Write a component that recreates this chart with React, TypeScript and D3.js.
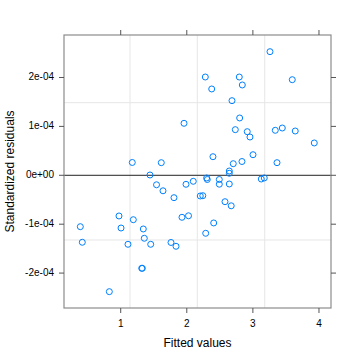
import React, { useMemo } from 'react'
import * as d3 from 'd3'

// fitted values (x) and standardized residuals (y, in units of 1e-4)
const fitted = [
  3.259, 2.28, 2.794, 3.596, 2.377, 2.84, 2.684, 1.958, 2.8, 2.734,
  2.915, 2.956, 3.339, 3.445, 3.641, 3.929, 2.396, 2.703, 2.835, 3.002,
  3.365, 1.175, 1.614, 2.643, 2.643, 2.098, 2.301, 2.31, 2.492, 2.492,
  2.643, 3.127, 3.172, 1.443, 1.542, 1.64, 1.806, 1.988, 2.204, 2.242,
  2.578, 2.672, 1.927, 2.026, 2.407, 2.286, 1.761, 1.837, 0.389, 0.419,
  0.974, 1.005, 1.191, 1.11, 1.342, 1.357, 1.454, 1.318, 1.327, 0.828,
]
const residuals = [
  2.528, 2.01, 2.01, 1.955, 1.765, 1.847, 1.526, 1.063, 1.172, 0.933,
  0.892, 0.783, 0.92, 0.967, 0.906, 0.661, 0.38, 0.237, 0.282, 0.421,
  0.258, 0.262, 0.258, 0.088, 0.041, -0.123, -0.055, -0.086, -0.086, -0.182,
  -0.178, -0.076, -0.055, 0.006, -0.194, -0.317, -0.458, -0.184, -0.423, -0.417,
  -0.54, -0.624, -0.859, -0.828, -0.975, -1.186, -1.374, -1.452, -1.051, -1.37,
  -0.832, -1.078, -0.908, -1.411, -1.098, -1.288, -1.411, -1.902, -1.902, -2.38,
].map(v => v * 1e-4)

const xTicks = [1, 2, 3, 4]
const yTicks = [-2e-4, -1e-4, 0, 1e-4, 2e-4]
const yTickLabels = ['-2e-04', '-1e-04', '0e+00', '1e-04', '2e-04']
const xGrid = [1.141, 2.159, 3.179]
const yGrid = [-1.323e-4, 1.485e-4]

const W = 360
const H = 360
const left = 64
const right = 331
const top = 35
const bottom = 308
const font = 'Liberation Sans, Arial, Helvetica, sans-serif'

const App: React.FC = () => {
  const x = useMemo(() => d3.scaleLinear().domain([0.142, 4.182]).range([left, right]), [])
  const y = useMemo(() => d3.scaleLinear().domain([-2.714e-4, 2.869e-4]).range([bottom, top]), [])

  const tickLen = 5
  const axisCol = '#8c8c8c'

  return (
    <svg
      width={W}
      height={H}
      style={{ position: 'absolute', left: 0, top: 0, background: '#fff' }}
      fontFamily={font}
    >
      {/* grid */}
      {xGrid.map(g => (
        <line key={`gx${g}`} x1={x(g)} x2={x(g)} y1={top} y2={bottom} stroke="#e6e6e6" strokeWidth={1} />
      ))}
      {yGrid.map(g => (
        <line key={`gy${g}`} x1={left} x2={right} y1={y(g)} y2={y(g)} stroke="#e6e6e6" strokeWidth={1} />
      ))}

      {/* zero reference line */}
      <line x1={left} x2={right} y1={y(0)} y2={y(0)} stroke="#222" strokeWidth={1} />

      {/* points */}
      {fitted.map((fv, i) => (
        <circle
          key={i}
          cx={x(fv)}
          cy={y(residuals[i])}
          r={3}
          fill="none"
          stroke="#0080ff"
          strokeWidth={1}
        />
      ))}

      {/* panel border */}
      <rect x={left} y={top} width={right - left} height={bottom - top} fill="none" stroke={axisCol} strokeWidth={1.2} />

      {/* x ticks */}
      {xTicks.map(t => (
        <g key={`xt${t}`}>
          <line x1={x(t)} x2={x(t)} y1={bottom} y2={bottom + tickLen} stroke="#555" />
          <line x1={x(t)} x2={x(t)} y1={top} y2={top - tickLen} stroke="#555" />
          <text x={x(t)} y={bottom + 16} fontSize={10} textAnchor="middle" dominantBaseline="middle" fill="#000">
            {t}
          </text>
        </g>
      ))}

      {/* y ticks */}
      {yTicks.map((t, i) => (
        <g key={`yt${t}`}>
          <line x1={left} x2={left - tickLen} y1={y(t)} y2={y(t)} stroke="#555" />
          <line x1={right} x2={right + tickLen} y1={y(t)} y2={y(t)} stroke="#555" />
          <text x={left - 10} y={y(t)} fontSize={10} textAnchor="end" dominantBaseline="middle" fill="#000">
            {yTickLabels[i]}
          </text>
        </g>
      ))}

      {/* axis titles */}
      <text x={(left + right) / 2} y={344} fontSize={12} textAnchor="middle" dominantBaseline="middle" fill="#000">
        Fitted values
      </text>
      <text
        transform={`translate(11, ${(top + bottom) / 2}) rotate(-90)`}
        fontSize={12}
        textAnchor="middle"
        dominantBaseline="middle"
        fill="#000"
      >
        Standardized residuals
      </text>
    </svg>
  )
}

export default App
